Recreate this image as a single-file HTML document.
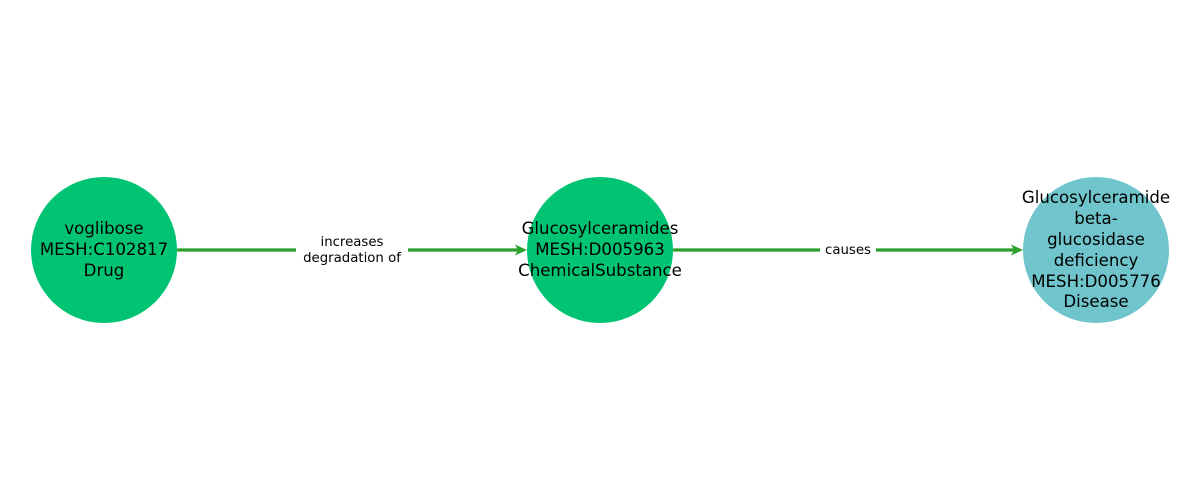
<!DOCTYPE html>
<html><head><meta charset="utf-8"><style>
html,body{margin:0;padding:0;background:#fff;}
svg{display:block}
text{font-family:"DejaVu Sans","Liberation Sans",sans-serif;fill:#000}
</style></head><body>
<svg width="1200" height="500" viewBox="0 0 1200 500" xmlns="http://www.w3.org/2000/svg">
<circle cx="104" cy="250" r="73" fill="#00c472"/>
<circle cx="600" cy="250" r="73" fill="#00c472"/>
<circle cx="1096" cy="250" r="73" fill="#70c5cc"/>
<line x1="177" y1="250" x2="520" y2="250" stroke="#2ca02c" stroke-width="3.2"/>
<line x1="673" y1="250" x2="1016" y2="250" stroke="#2ca02c" stroke-width="3.2"/>
<path d="M527,250 L515,244.5 L518,250 L515,255.5 Z" fill="#2ca02c"/>
<path d="M1023,250 L1011,244.5 L1014,250 L1011,255.5 Z" fill="#2ca02c"/>
<rect x="296" y="232" width="112" height="36" fill="#fff"/>
<rect x="820" y="240" width="56" height="20" fill="#fff"/>
<g font-size="13.3" text-anchor="middle">
<text x="352" y="246">increases</text>
<text x="352" y="262">degradation of</text>
<text x="848" y="254">causes</text>
</g>
<g font-size="16.6" text-anchor="middle">
<text x="104" y="234">voglibose</text>
<text x="104" y="255">MESH:C102817</text>
<text x="104" y="276">Drug</text>
<text x="600" y="234">Glucosylceramides</text>
<text x="600" y="255">MESH:D005963</text>
<text x="600" y="276">ChemicalSubstance</text>
<text x="1096" y="203">Glucosylceramide</text>
<text x="1096" y="224">beta-</text>
<text x="1096" y="245">glucosidase</text>
<text x="1096" y="266">deficiency</text>
<text x="1096" y="287">MESH:D005776</text>
<text x="1096" y="307">Disease</text>
</g>
</svg>
</body></html>
